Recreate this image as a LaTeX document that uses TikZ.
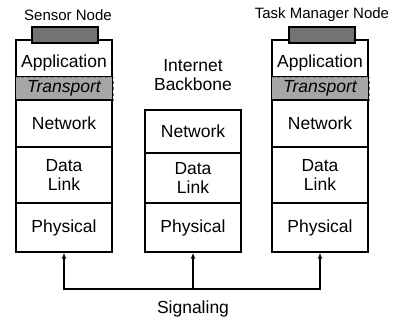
\documentclass[tikz,border=0pt]{standalone}
\usepackage{fontspec}
\setmainfont{Liberation Sans}
\usetikzlibrary{arrows.meta}
\begin{document}
\begin{tikzpicture}[x=1pt,y=-1pt,
  cell/.style={draw=black,line width=1.2pt,rectangle,minimum width=96pt,inner sep=0pt,
    align=center,font=\fontsize{17.5}{19}\selectfont},
  band/.style={fill=black!35,draw=black!55,dashed,line width=0.8pt,rectangle,minimum width=98pt,minimum height=23pt,inner sep=0pt,
    font=\fontsize{17.5}{19}\selectfont\itshape},
  capbox/.style={fill=black!55,draw=black,line width=1.3pt,rectangle,minimum width=66pt,minimum height=16pt,inner sep=0pt},
  head/.style={font=\fontsize{15}{17}\selectfont,inner sep=0pt},
  txt/.style={font=\fontsize{17.5}{19}\selectfont,inner sep=0pt,align=center},
  sig/.style={line width=1.2pt,-{Latex[length=6pt,width=4.5pt]}}]
\useasboundingbox (0,0) rectangle (394,320);
% ---------- Sensor node stack ----------
\node[cell,minimum height=37pt] (sApp) at (64,58.5) {};
\node[txt] (sAppT) at (64,62.5) {Application};
\node[band] (sTra) at (64,88.5) {Transport};
\node[cell,minimum height=47pt] (sNet) at (64,123.5) {Network};
\node[cell,minimum height=56pt] (sDL) at (64,175) {Data\\Link};
\node[cell,minimum height=49pt] (sPhy) at (64,227.5) {Physical};
\draw[line width=1.2pt] (sApp.north west) -- (sPhy.south west) (sApp.north east) -- (sPhy.south east);
\node[capbox] (sCap) at (65,35) {};
\node[head] (sHead) at (68,15) {Sensor Node};
% ---------- Internet backbone ----------
\node[txt] (ib) at (193,75) {Internet\\Backbone};
\node[cell,minimum height=43pt] (mNet) at (193,131.5) {Network};
\node[cell,minimum height=50pt] (mDL) at (193,178) {Data\\Link};
\node[cell,minimum height=49pt] (mPhy) at (193,227.5) {Physical};
% ---------- Task manager node stack ----------
\node[cell,minimum height=37pt] (tApp) at (320,58.5) {};
\node[txt] (tAppT) at (320,62.5) {Application};
\node[band] (tTra) at (320,88.5) {Transport};
\node[cell,minimum height=47pt] (tNet) at (320,123.5) {Network};
\node[cell,minimum height=56pt] (tDL) at (320,175) {Data\\Link};
\node[cell,minimum height=49pt] (tPhy) at (320,227.5) {Physical};
\draw[line width=1.2pt] (tApp.north west) -- (tPhy.south west) (tApp.north east) -- (tPhy.south east);
\node[capbox] (tCap) at (322,35) {};
\node[head] (tHead) at (322,15) {Task Manager Node};
% ---------- Signaling ----------
\coordinate (j) at (193,289);
\draw[sig] (j) -- (mPhy.south);
\draw[sig] (j) -| (sPhy.south);
\draw[sig] (j) -| (tPhy.south);
\node[txt] (sigT) at (193,309) {Signaling};
\end{tikzpicture}
\end{document}
